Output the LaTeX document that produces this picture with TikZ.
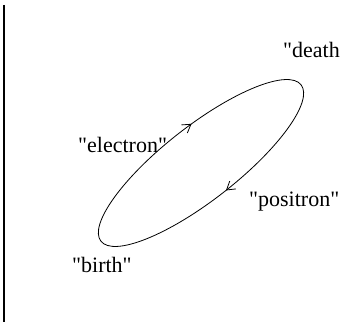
\documentclass[tikz,border=0pt]{standalone}
\usepackage{fontspec}
\setmainfont{Liberation Serif}
\usepackage{xcolor}
\usetikzlibrary{arrows.meta,decorations.markings}
\definecolor{ink}{RGB}{0,0,0}
\tikzset{
  tag/.style   = {anchor=base west, inner sep=0pt, text=ink,
                  font=\fontsize{22bp}{26bp}\selectfont},
  orbit/.style = {draw=ink, line width=0.8bp},
  axis/.style  = {draw=ink, line width=1.4bp},
  barb/.tip    = {Straight Barb[length=8bp, width=10bp, line width=0.8bp]},
}
\newcommand{\qd}{\textquotedbl}

\begin{document}
\begin{tikzpicture}[x=1bp, y=1bp]
\useasboundingbox (0,0) rectangle (340,326);
% time axis
\coordinate (top) at (4,321);
\coordinate (bot) at (4,4);
\draw[axis] (top) -- (bot);
% closed worldline of the pair
\coordinate (ctr) at (201,163);
\draw[orbit, rotate around={38:(ctr)}, postaction=decorate,
  decoration={markings,
    mark=at position 0.22 with {\arrowreversed{barb}},
    mark=at position 0.755 with {\arrowreversed{barb}}}]
  (ctr) ellipse [x radius=127, y radius=37];
% labels
\node[tag] (elec)  at (78,174)  {\qd electron\qd};
\node[tag] (posi)  at (249,120) {\qd positron\qd};
\node[tag] (birth) at (72,54)   {\qd birth\qd};
\node[tag] (death) at (283,269) {\qd death};
\end{tikzpicture}
\end{document}
